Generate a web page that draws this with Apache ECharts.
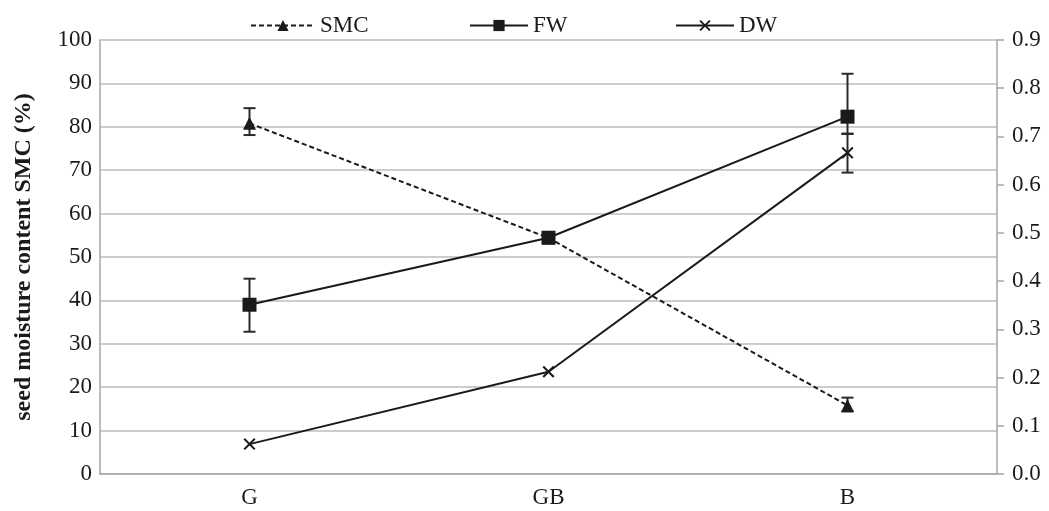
<!DOCTYPE html>
<html>
<head>
<meta charset="utf-8">
<script src="https://cdn.jsdelivr.net/npm/echarts@6/dist/echarts.min.js"></script>
<style>html,body{margin:0;padding:0;background:#fff}#c{width:1049px;height:511px}</style>
</head>
<body>
<div id="c"></div>
<script>
var categories = ['G', 'GB', 'B'];
var smc = [80.8, 54.4, 15.8];
var smcLow = [78.1, 54.4, 14.4];
var smcHigh = [84.3, 54.4, 17.6];
var fw = [0.351, 0.490, 0.741];
var fwLow = [0.295, 0.490, 0.705];
var fwHigh = [0.405, 0.490, 0.830];
var dw = [0.062, 0.212, 0.666];
var dwLow = [0.062, 0.212, 0.625];
var dwHigh = [0.062, 0.212, 0.706];
var leftTicks = [0, 10, 20, 30, 40, 50, 60, 70, 80, 90, 100];
var rightTicks = [0.0, 0.1, 0.2, 0.3, 0.4, 0.5, 0.6, 0.7, 0.8, 0.9];

var FONT = '"Liberation Serif", "DejaVu Serif", serif';
var FS = 23;
var INK = '#1a1a1a';
var AXIS = '#a6a6a6';
var CROSS = 'path://M0,1.2 L1.2,0 L5,3.8 L8.8,0 L10,1.2 L6.2,5 L10,8.8 L8.8,10 L5,6.2 L1.2,10 L0,8.8 L3.8,5 Z';

function errData(low, high) {
  return categories.map(function (c, i) { return [i, low[i], high[i]]; });
}
function errRender(params, api) {
  var x = api.value(0);
  var p1 = api.coord([x, api.value(1)]);
  var p2 = api.coord([x, api.value(2)]);
  var half = 6;
  var st = { stroke: '#2a2a2a', lineWidth: 2 };
  if (Math.abs(p1[1] - p2[1]) < 0.5) return null;
  return {
    type: 'group',
    children: [
      { type: 'line', shape: { x1: p1[0], y1: p1[1], x2: p2[0], y2: p2[1] }, style: st },
      { type: 'line', shape: { x1: p1[0] - half, y1: p1[1], x2: p1[0] + half, y2: p1[1] }, style: st },
      { type: 'line', shape: { x1: p2[0] - half, y1: p2[1], x2: p2[0] + half, y2: p2[1] }, style: st }
    ]
  };
}

var chart = echarts.init(document.getElementById('c'), null, { renderer: 'canvas' });
var legendText = { fontFamily: FONT, fontSize: FS, color: INK, padding: [0, 0, 0, 0] };
chart.setOption({
  animation: false,
  backgroundColor: '#fff',
  textStyle: { fontFamily: FONT },
  legend: [
    { data: ['SMC'], left: 245, top: 9, itemWidth: 64, itemHeight: 14, itemGap: 0, textStyle: legendText, selectedMode: false },
    { data: ['FW'], left: 464, top: 9, itemWidth: 58, itemHeight: 14, itemGap: 0, textStyle: legendText, selectedMode: false },
    { data: ['DW'], left: 670, top: 9, itemWidth: 58, itemHeight: 14, itemGap: 0, textStyle: legendText, selectedMode: false }
  ],
  grid: { left: 100, right: 52, top: 40, bottom: 37 },
  xAxis: {
    type: 'category',
    data: categories,
    boundaryGap: true,
    axisLine: { lineStyle: { color: AXIS, width: 1.5 } },
    axisTick: { alignWithLabel: true, length: 5, lineStyle: { color: AXIS, width: 1.5 } },
    axisLabel: { fontFamily: FONT, fontSize: FS, color: INK, margin: 12 },
    splitLine: { show: false }
  },
  yAxis: [
    {
      type: 'value',
      min: leftTicks[0], max: leftTicks[leftTicks.length - 1], interval: leftTicks[1] - leftTicks[0],
      name: 'seed moisture content SMC (%)',
      nameLocation: 'middle',
      nameGap: 64,
      nameTextStyle: { fontFamily: FONT, fontSize: 24, fontWeight: 'bold', color: INK },
      axisLine: { show: true, lineStyle: { color: AXIS, width: 1.5 } },
      axisTick: { show: false },
      axisLabel: { fontFamily: FONT, fontSize: FS, color: INK, margin: 8 },
      splitLine: { show: true, lineStyle: { color: '#bdbdbd', width: 1.5 } }
    },
    {
      type: 'value',
      position: 'right',
      min: rightTicks[0], max: rightTicks[rightTicks.length - 1], interval: 0.1,
      axisLine: { show: true, lineStyle: { color: AXIS, width: 1.5 } },
      axisTick: { show: true, inside: false, length: 7, lineStyle: { color: AXIS, width: 1.5 } },
      axisLabel: { fontFamily: FONT, fontSize: FS, color: INK, margin: 15, formatter: function (v) { return v.toFixed(1); } },
      splitLine: { show: false }
    }
  ],
  series: [
    {
      name: 'SMC', type: 'line', yAxisIndex: 0, data: smc,
      symbol: 'triangle', symbolSize: 13, showAllSymbol: true,
      lineStyle: { color: INK, width: 2, type: [5, 3] },
      itemStyle: { color: INK },
      z: 3
    },
    {
      name: 'FW', type: 'line', yAxisIndex: 1, data: fw,
      symbol: 'rect', symbolSize: 14,
      lineStyle: { color: INK, width: 2 },
      itemStyle: { color: INK },
      z: 4
    },
    {
      name: 'DW', type: 'line', yAxisIndex: 1, data: dw,
      symbol: CROSS, symbolSize: 12,
      lineStyle: { color: INK, width: 2 },
      itemStyle: { color: INK },
      z: 4
    },
    { type: 'custom', yAxisIndex: 0, data: errData(smcLow, smcHigh), renderItem: errRender, encode: { x: 0, y: [1, 2] }, z: 2, silent: true },
    { type: 'custom', yAxisIndex: 1, data: errData(fwLow, fwHigh), renderItem: errRender, encode: { x: 0, y: [1, 2] }, z: 2, silent: true },
    { type: 'custom', yAxisIndex: 1, data: errData(dwLow, dwHigh), renderItem: errRender, encode: { x: 0, y: [1, 2] }, z: 2, silent: true }
  ]
});
</script>
</body>
</html>
